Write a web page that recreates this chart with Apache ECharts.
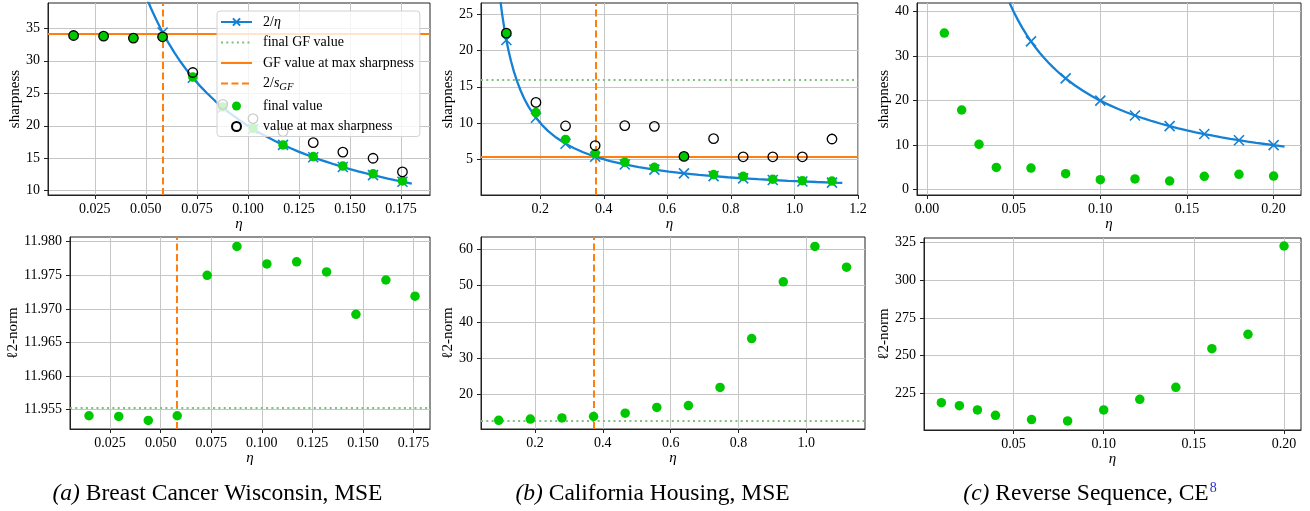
<!DOCTYPE html>
<html>
<head>
<meta charset="utf-8">
<script src="https://cdn.jsdelivr.net/npm/echarts@6/dist/echarts.min.js"></script>
<style>
html,body{margin:0;padding:0;background:#fff;}
#chart{width:1310px;height:511px;}
</style>
</head>
<body>
<div id="chart"></div>
<script>
// ---------- Panel (a) Breast Cancer Wisconsin ----------
const etaA = [0.0146,0.0293,0.0439,0.0582,0.0730,0.0877,0.1025,0.1172,0.1320,0.1465,0.1613,0.1757];
const finalSharpA = [33.9,33.8,33.5,33.7,27.5,22.9,19.6,17.05,15.25,13.8,12.6,11.5];
const maxSharpA = [33.9,33.8,33.5,33.7,28.2,23.3,21.1,19.1,17.4,15.95,15.0,12.9];
const curveEtaA = [0.050,0.0525,0.055,0.0582,0.061,0.064,0.067,0.070,0.0730,0.0765,0.080,0.084,0.0877,0.0915,0.095,0.099,0.1025,0.1065,0.110,0.1135,0.1172,0.121,0.1245,0.128,0.1320,0.1355,0.139,0.1425,0.1465,0.150,0.154,0.1575,0.1613,0.165,0.1685,0.172,0.1757,0.1803];
const curveSharpA = [40.0,38.1,36.4,34.36,32.8,31.25,29.85,28.57,27.40,26.14,25.0,23.81,22.81,21.86,21.05,20.20,19.51,18.78,18.18,17.62,17.06,16.53,16.06,15.63,15.15,14.76,14.39,14.04,13.65,13.33,12.99,12.70,12.40,12.12,11.87,11.63,11.38,11.09];
const gfFinalA = 34.2, gfMaxA = 34.2, etaGfA = 0.0582;
const normA = [11.9541,11.9540,11.9534,11.9541,11.9750,11.9793,11.9767,11.9770,11.9755,11.9692,11.9743,11.9719];
const gfNormA = 11.9553;

// ---------- Panel (b) California Housing ----------
const etaB = [0.0932,0.1864,0.2796,0.3728,0.466,0.5592,0.6524,0.7456,0.8388,0.932,1.0252,1.1184];
const finalSharpB = [22.4,11.45,7.75,5.8,4.6,3.9,5.4,2.9,2.65,2.25,2.05,2.0];
const maxSharpB = [22.4,12.85,9.6,6.9,9.65,9.55,5.4,7.85,5.35,5.35,5.35,7.8];
const curveEtaB = [0.075,0.080,0.0865,0.0932,0.100,0.108,0.117,0.127,0.138,0.150,0.163,0.1864,0.205,0.225,0.250,0.2796,0.305,0.335,0.3728,0.42,0.466,0.51,0.5592,0.605,0.6524,0.70,0.7456,0.79,0.8388,0.885,0.932,0.98,1.0252,1.07,1.1184,1.151];
const curveSharpB = [26.67,25.0,23.12,21.46,20.0,18.52,17.09,15.75,14.49,13.33,12.27,10.73,9.76,8.89,8.0,7.15,6.56,5.97,5.36,4.76,4.29,3.92,3.58,3.31,3.07,2.86,2.68,2.53,2.38,2.26,2.15,2.04,1.95,1.87,1.79,1.74];
const gfFinalB = 16.0, gfMaxB = 5.3, etaGfB = 0.374;
const normB = [12.95,13.3,13.6,14.0,14.9,16.5,17.0,22.0,35.4,51.0,60.7,55.0];
const gfNormB = 12.9;

// ---------- Panel (c) Reverse Sequence ----------
const etaC = [0.01,0.02,0.03,0.04,0.06,0.08,0.10,0.12,0.14,0.16,0.18,0.20];
const finalSharpC = [35.2,17.9,10.2,5.0,4.85,3.6,2.25,2.4,1.95,3.0,3.45,3.05];
const curveEtaC = [0.0476,0.050,0.0525,0.055,0.0575,0.060,0.0625,0.065,0.0675,0.070,0.0725,0.075,0.0775,0.080,0.085,0.090,0.095,0.100,0.105,0.110,0.115,0.120,0.125,0.130,0.135,0.140,0.145,0.150,0.155,0.160,0.165,0.170,0.175,0.180,0.185,0.190,0.195,0.200,0.2063];
const curveSharpC = [42.0,40.0,38.1,36.36,34.78,33.33,32.0,30.77,29.63,28.57,27.59,26.67,25.81,25.0,23.53,22.22,21.05,20.0,19.05,18.18,17.39,16.67,16.0,15.38,14.81,14.29,13.79,13.33,12.90,12.5,12.12,11.76,11.43,11.11,10.81,10.53,10.26,10.0,9.69];
const normC = [218.8,216.8,214.0,210.4,207.6,206.7,214.0,221.0,229.0,254.6,264.1,322.6];

// ---------- Tick labels ----------
const ticksAX = [0.025,0.050,0.075,0.100,0.125,0.150,0.175];
const ticksATopY = [10,15,20,25,30,35];
const ticksABotY = [11.955,11.960,11.965,11.970,11.975,11.980];
const ticksBTopX = [0.2,0.4,0.6,0.8,1.0,1.2];
const ticksBBotX = [0.2,0.4,0.6,0.8,1.0];
const ticksBTopY = [5,10,15,20,25];
const ticksBBotY = [20,30,40,50,60];
const ticksCTopX = [0.00,0.05,0.10,0.15,0.20];
const ticksCBotX = [0.05,0.10,0.15,0.20];
const ticksCTopY = [0,10,20,30,40];
const ticksCBotY = [225,250,275,300,325];

// ---------- Legend / captions ----------
const legendNames = ['2/η','final GF value','GF value at max sharpness','2/s_GF','final value','value at max sharpness'];
const captions = [
  {tag:'(a)', text:' Breast Cancer Wisconsin, MSE', sup:''},
  {tag:'(b)', text:' California Housing, MSE', sup:''},
  {tag:'(c)', text:' Reverse Sequence, CE', sup:'8'}
];

// ---------- styling ----------
const FONT = "'Liberation Serif','DejaVu Serif',serif";
const BLUE = '#1581d4', GREEN = '#00c800', ORANGE = '#ff7f0e', DOTGREEN = '#7fbf7f';
const GRIDC = '#c6c6c6', AXC = '#222';
const CROSS = 'path://M0,0L10,10M10,0L0,10';
const TICKFS = 14, NAMEFS = 15;

const layout = [
  {left:48, top:3, width:382, height:192},
  {left:481, top:3, width:377, height:192},
  {left:917, top:3, width:384, height:192},
  {left:70, top:237, width:360, height:192},
  {left:481, top:237, width:384, height:192},
  {left:924, top:238, width:377, height:192}
];

const chart = echarts.init(document.getElementById('chart'), null, {renderer:'canvas'});

function xAx(gi, min, max, ticks, dec, gap) {
  return {
    type:'value', gridIndex:gi, min:min, max:max,
    name:'η', nameLocation:'middle', nameGap:gap,
    nameTextStyle:{fontFamily:FONT, fontStyle:'italic', fontSize:NAMEFS, color:'#000'},
    axisLine:{show:true, onZero:false, lineStyle:{color:AXC, width:1}},
    axisTick:{show:true, length:4, inside:false, customValues:ticks, lineStyle:{color:AXC}},
    axisLabel:{customValues:ticks, margin:7, fontFamily:FONT, fontSize:TICKFS, color:'#000',
      formatter:function(v){return Number(v).toFixed(dec);}},
    splitLine:{show:true, lineStyle:{color:GRIDC, width:1}}
  };
}
function yAx(gi, min, max, ticks, dec, name, gap) {
  return {
    type:'value', gridIndex:gi, min:min, max:max,
    name:name, nameLocation:'middle', nameGap:gap,
    nameTextStyle:{fontFamily:FONT, fontSize:NAMEFS, color:'#000'},
    axisLine:{show:true, onZero:false, lineStyle:{color:AXC, width:1}},
    axisTick:{show:true, length:4, inside:false, customValues:ticks, lineStyle:{color:AXC}},
    axisLabel:{customValues:ticks, margin:8, fontFamily:FONT, fontSize:TICKFS, color:'#000',
      formatter:function(v){return Number(v).toFixed(dec);}},
    splitLine:{show:true, lineStyle:{color:GRIDC, width:1}}
  };
}

function pairs(xs, ys){ return xs.map(function(x,i){return [x, ys[i]];}); }
function curveData(ce, cs, marks){
  return ce.map(function(e,i){
    const isM = marks.some(function(m){return Math.abs(m-e) < 1e-6;});
    return {value:[e, cs[i]], symbol: isM ? CROSS : 'none'};
  });
}
function curveSeries(gi, ce, cs, marks){
  return {
    name:'2/η', type:'line', xAxisIndex:gi, yAxisIndex:gi,
    data:curveData(ce, cs, marks), smooth:false, clip:true,
    symbol:CROSS, symbolSize:10, showSymbol:true, showAllSymbol:true,
    lineStyle:{color:BLUE, width:2.3},
    itemStyle:{color:'rgba(0,0,0,0)', borderColor:BLUE, borderWidth:1.6},
    z:2
  };
}
function hLine(gi, name, y, color, type, width){
  return {
    name:name, type:'line', xAxisIndex:gi, yAxisIndex:gi, data:[], symbol:'none',
    lineStyle:{color:color, type:type, width:width},
    itemStyle:{color:color},
    markLine:{silent:true, precision:6, z:2, symbol:['none','none'], label:{show:false},
      lineStyle:{color:color, type:type, width:width}, data:[{yAxis:y}]},
    z:2
  };
}
function vLine(gi, name, x){
  return {
    name:name, type:'line', xAxisIndex:gi, yAxisIndex:gi, data:[], symbol:'none',
    lineStyle:{color:ORANGE, type:[7,3.5], width:2},
    itemStyle:{color:ORANGE},
    markLine:{silent:true, precision:6, z:2, symbol:['none','none'], label:{show:false},
      lineStyle:{color:ORANGE, type:[7,3.5], width:2}, data:[{xAxis:x}]},
    z:2
  };
}
function greenSeries(gi, xs, ys, size){
  return {name:'final value', type:'scatter', xAxisIndex:gi, yAxisIndex:gi,
    data:pairs(xs, ys), symbol:'circle', symbolSize:size,
    itemStyle:{color:GREEN, opacity:1}, z:3};
}
function openSeries(gi, xs, ys){
  return {name:'value at max sharpness', type:'scatter', xAxisIndex:gi, yAxisIndex:gi,
    data:pairs(xs, ys), symbol:'circle', symbolSize:9.5,
    itemStyle:{color:'rgba(0,0,0,0)', borderColor:'#000', borderWidth:1.3, opacity:1}, z:4};
}
const DOT = [2,3.3];

const series = [
  // (a) top
  curveSeries(0, curveEtaA, curveSharpA, etaA),
  hLine(0, 'final GF value', gfFinalA, DOTGREEN, DOT, 2.2),
  hLine(0, 'GF value at max sharpness', gfMaxA, ORANGE, 'solid', 2),
  vLine(0, '2/s_GF', etaGfA),
  greenSeries(0, etaA, finalSharpA, 9.5),
  openSeries(0, etaA, maxSharpA),
  // (b) top
  curveSeries(1, curveEtaB, curveSharpB, etaB),
  hLine(1, 'final GF value', gfFinalB, DOTGREEN, DOT, 2.2),
  hLine(1, 'GF value at max sharpness', gfMaxB, ORANGE, 'solid', 2),
  vLine(1, '2/s_GF', etaGfB),
  greenSeries(1, etaB, finalSharpB, 9.5),
  openSeries(1, etaB, maxSharpB),
  // (c) top
  curveSeries(2, curveEtaC, curveSharpC, etaC),
  greenSeries(2, etaC, finalSharpC, 9.5),
  // (a) bottom
  hLine(3, 'final GF value', gfNormA, DOTGREEN, DOT, 2.2),
  vLine(3, '2/s_GF', etaGfA),
  greenSeries(3, etaA, normA, 9.5),
  // (b) bottom
  hLine(4, 'final GF value', gfNormB, DOTGREEN, DOT, 2.2),
  vLine(4, '2/s_GF', etaGfB),
  greenSeries(4, etaB, normB, 9.5),
  // (c) bottom
  greenSeries(5, etaC, normC, 9.5)
];

const richBase = {
  g:{width:6},
  t:{fontFamily:FONT, fontSize:14, color:'#000'},
  i:{fontFamily:FONT, fontSize:14, fontStyle:'italic', color:'#000'},
  sub:{fontFamily:FONT, fontSize:10.5, fontStyle:'italic', color:'#000', padding:[7,0,0,0]}
};

const hiddenSym = {color:'rgba(0,0,0,0)', borderColor:'rgba(0,0,0,0)', borderWidth:0, opacity:0};
const legendData = legendNames.map(function(n){
  if (n === 'final GF value' || n === 'GF value at max sharpness' || n === '2/s_GF') {
    return {name:n, itemStyle:hiddenSym};
  }
  return {name:n};
});

const capCenters = [217.5, 652.5, 1090];
const capGraphics = captions.map(function(c, i){
  return {
    type:'text', x:capCenters[i], y:494,
    style:{
      text:'{it|' + c.tag + '}{rm|' + c.text + '}' + (c.sup ? '{sup|' + c.sup + '}' : ''),
      align:'center', verticalAlign:'middle',
      rich:{
        it:{fontFamily:FONT, fontSize:23.5, fontStyle:'italic', fill:'#000'},
        rm:{fontFamily:FONT, fontSize:23.5, fill:'#000'},
        sup:{fontFamily:FONT, fontSize:14, fill:'#2d2dc8', padding:[0,0,12,1]}
      }
    }
  };
});

const option = {
  animation:false,
  backgroundColor:'#fff',
  textStyle:{fontFamily:FONT},
  grid: layout.map(function(l){return {left:l.left, top:l.top, width:l.width, height:l.height,
    show:true, borderColor:AXC, borderWidth:1, backgroundColor:'rgba(0,0,0,0)',
    containLabel:false, outerBoundsMode:'none'};}),
  xAxis:[
    xAx(0, 0.00207, 0.1892, ticksAX, 3, 19),
    xAx(1, 0.0134, 1.2003, ticksBTopX, 1, 19),
    xAx(2, -0.00577, 0.2158, ticksCTopX, 2, 19),
    xAx(3, 0.00522, 0.1831, ticksAX, 3, 22),
    xAx(4, 0.041, 1.1728, ticksBBotX, 1, 22),
    xAx(5, 0.00037, 0.2094, ticksCBotX, 2, 22)
  ],
  yAxis:[
    yAx(0, 9.34, 38.9, ticksATopY, 0, 'sharpness', 25.5),
    yAx(1, 0.08, 26.56, ticksBTopY, 0, 'sharpness', 22.5),
    yAx(2, -1.2, 41.95, ticksCTopY, 0, 'sharpness', 23.5),
    yAx(3, 11.95213, 11.9807, ticksABotY, 3, 'ℓ2-norm', 46.5),
    yAx(4, 10.57, 63.3, ticksBBotY, 0, 'ℓ2-norm', 16.5),
    yAx(5, 200.7, 327.9, ticksCBotY, 0, 'ℓ2-norm', 26.5)
  ],
  legend:{
    show:true, orient:'vertical', left:217, top:11, z:20,
    data:legendData, selectedMode:false,
    itemWidth:31, itemHeight:9, itemGap:6.5,
    padding:[4,6,3,3],
    backgroundColor:'rgba(255,255,255,0.8)', borderColor:'#d2d2d2', borderWidth:1, borderRadius:3,
    textStyle:{fontFamily:FONT, fontSize:14, color:'#000', lineHeight:14, rich:richBase},
    formatter:function(name){
      if (name === '2/η') return '{g|}{t|2/}{i|η}';
      if (name === '2/s_GF') return '{g|}{t|2/}{i|s}{sub|GF}';
      return '{g|}{t|' + name + '}';
    }
  },
  graphic: capGraphics,
  series: series
};
chart.setOption(option);
</script>
</body>
</html>
